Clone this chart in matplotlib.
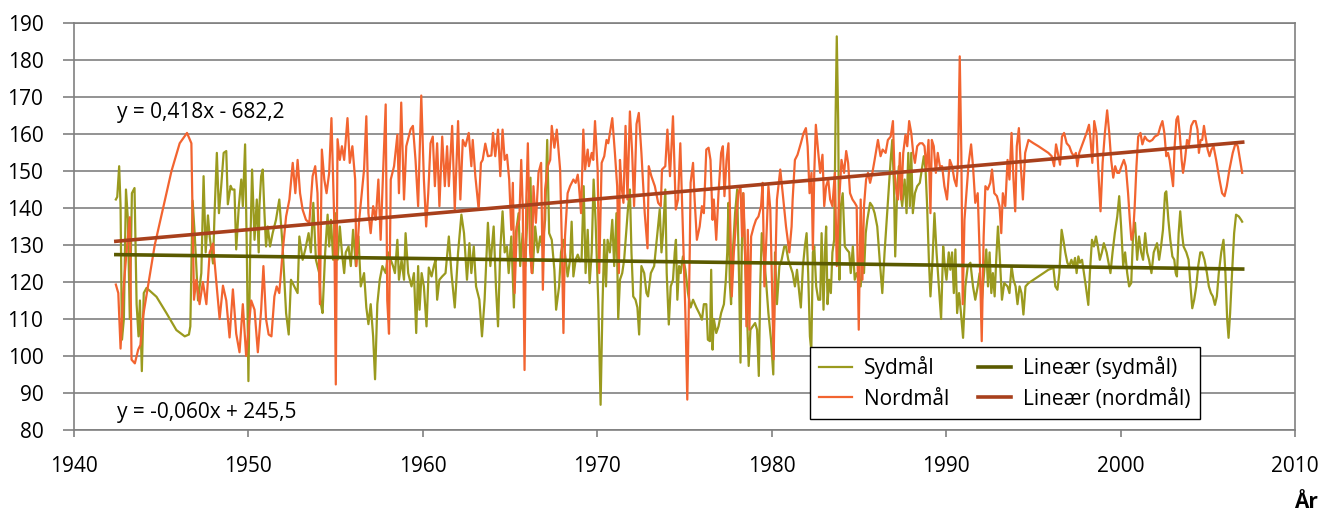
import matplotlib
matplotlib.use('Agg')
from matplotlib import pyplot as plt
from matplotlib.ticker import MultipleLocator

plt.rcParams['font.family'] = ['Open Sans', 'DejaVu Sans']

# Sydmål (south gauge) - year, value
syd_year = [
    1942.40, 1942.48, 1942.59, 1942.67, 1942.75, 1942.86, 1942.98, 1943.09, 1943.20, 1943.32,
    1943.47, 1943.59, 1943.70, 1943.78, 1943.89, 1944.00, 1944.16, 1944.73, 1945.30, 1945.87,
    1946.35, 1946.59, 1946.67, 1946.80, 1946.92, 1947.11, 1947.30, 1947.43, 1947.55, 1947.68,
    1947.78, 1947.97, 1948.06, 1948.19, 1948.31, 1948.44, 1948.58, 1948.73, 1948.82, 1948.98,
    1949.07, 1949.20, 1949.30, 1949.45, 1949.59, 1949.68, 1949.81, 1949.91, 1950.00, 1950.10,
    1950.21, 1950.35, 1950.48, 1950.59,
    1950.63, 1950.73, 1950.82, 1950.92, 1951.01, 1951.11, 1951.24, 1951.39, 1951.58, 1951.77,
    1951.96, 1952.16, 1952.31, 1952.44, 1952.63, 1952.82, 1952.92, 1953.11, 1953.26, 1953.45,
    1953.58, 1953.72, 1953.87, 1954.06, 1954.16, 1954.25, 1954.40, 1954.54, 1954.63, 1954.73,
    1954.86, 1954.97, 1955.11, 1955.24, 1955.36, 1955.49, 1955.58, 1955.74, 1955.87, 1956.00,
    1956.16, 1956.31, 1956.44, 1956.63, 1956.76, 1956.88, 1957.01, 1957.15, 1957.26, 1957.39,
    1957.53, 1957.68, 1957.87, 1958.02, 1958.16, 1958.29, 1958.40, 1958.54, 1958.63, 1958.78,
    1958.92, 1959.01, 1959.16,
    1959.35, 1959.49, 1959.62, 1959.73, 1959.81, 1959.93, 1960.06, 1960.21, 1960.34, 1960.50,
    1960.63, 1960.73, 1960.82, 1960.95, 1961.11, 1961.30, 1961.49, 1961.64, 1961.83, 1962.02,
    1962.21, 1962.36, 1962.53, 1962.67, 1962.78, 1962.92, 1963.05, 1963.24, 1963.39, 1963.54,
    1963.73, 1963.87, 1964.06, 1964.19, 1964.31, 1964.44, 1964.57, 1964.69, 1964.82, 1964.92,
    1965.07, 1965.22, 1965.33, 1965.49, 1965.58, 1965.72, 1965.87, 1966.02, 1966.17, 1966.29,
    1966.44, 1966.59, 1966.73, 1966.86, 1967.01, 1967.13, 1967.24, 1967.39, 1967.54, 1967.64,
    1967.81, 1967.92, 1968.06, 1968.19, 1968.30, 1968.44, 1968.53, 1968.63, 1968.76, 1968.88,
    1969.01, 1969.10, 1969.22, 1969.33, 1969.45, 1969.56, 1969.68, 1969.79, 1969.90, 1970.06,
    1970.19, 1970.30, 1970.40, 1970.50, 1970.59, 1970.72, 1970.86, 1970.97, 1971.10, 1971.20,
    1971.30, 1971.43, 1971.54, 1971.64, 1971.77, 1971.87, 1971.96, 1972.06, 1972.19, 1972.30,
    1972.40, 1972.53, 1972.69, 1972.82, 1972.91, 1973.07, 1973.26, 1973.41, 1973.58, 1973.68,
    1973.77, 1973.90, 1973.98, 1974.10, 1974.21, 1974.34, 1974.44, 1974.51, 1974.59, 1974.69,
    1974.78, 1974.91, 1975.05, 1975.20, 1975.35, 1975.49, 1975.68, 1975.87, 1976.00, 1976.11,
    1976.25,
    1976.34, 1976.46, 1976.53, 1976.61, 1976.68, 1976.82, 1976.95, 1977.10, 1977.26, 1977.37,
    1977.45, 1977.52, 1977.60, 1977.67, 1977.77, 1977.90, 1978.02, 1978.13, 1978.21, 1978.28,
    1978.36, 1978.47, 1978.59, 1978.68, 1978.78, 1978.91, 1979.05, 1979.16, 1979.26, 1979.35,
    1979.43, 1979.54, 1979.67, 1979.81, 1979.96, 1980.09, 1980.19, 1980.30, 1980.44, 1980.57,
    1980.72, 1980.82, 1980.95, 1981.07, 1981.20, 1981.33, 1981.45, 1981.58, 1981.67, 1981.79,
    1981.90, 1982.00, 1982.09, 1982.19, 1982.27, 1982.36, 1982.44, 1982.55, 1982.67, 1982.78,
    1982.86, 1982.97, 1983.05, 1983.12, 1983.20, 1983.29, 1983.39, 1983.48, 1983.58, 1983.66,
    1983.73, 1983.81, 1983.88, 1983.96, 1984.07, 1984.19, 1984.30, 1984.44, 1984.53, 1984.65,
    1984.76, 1984.87,
    1984.99, 1985.10, 1985.20, 1985.29, 1985.39, 1985.48, 1985.64, 1985.77, 1985.90, 1986.05,
    1986.19, 1986.34, 1986.47, 1986.59, 1986.72, 1986.82, 1986.91, 1987.01, 1987.08, 1987.20,
    1987.29, 1987.39, 1987.48, 1987.62, 1987.73, 1987.83, 1987.92, 1988.00, 1988.09, 1988.21,
    1988.34, 1988.49, 1988.63, 1988.72, 1988.82, 1988.91, 1989.01, 1989.10, 1989.22, 1989.33,
    1989.45, 1989.58, 1989.71, 1989.83, 1989.92, 1990.02, 1990.15, 1990.24, 1990.34, 1990.44,
    1990.53, 1990.63, 1990.74, 1990.85, 1990.97, 1991.10, 1991.24, 1991.39, 1991.54, 1991.67,
    1991.81, 1991.92, 1992.05, 1992.19, 1992.30, 1992.40, 1992.49, 1992.59, 1992.68, 1992.78,
    1992.87, 1992.97, 1993.06, 1993.20, 1993.33,
    1993.52, 1993.63, 1993.75, 1993.86, 1993.98, 1994.09, 1994.21, 1994.32, 1994.43, 1994.55,
    1994.72, 1995.01, 1995.29, 1995.58, 1995.86, 1996.15, 1996.26, 1996.38, 1996.49, 1996.62,
    1996.72, 1996.83, 1996.95, 1997.06, 1997.18, 1997.29, 1997.39, 1997.48, 1997.58, 1997.67,
    1997.79, 1997.90, 1998.01, 1998.15, 1998.24, 1998.36, 1998.47, 1998.59, 1998.70, 1998.81,
    1998.93, 1999.04, 1999.20, 1999.31, 1999.42, 1999.54, 1999.67, 1999.81, 1999.92, 2000.03,
    2000.15, 2000.26, 2000.38, 2000.49, 2000.61, 2000.72, 2000.83, 2000.95, 2001.06, 2001.18,
    2001.29, 2001.41, 2001.52, 2001.63, 2001.77, 2001.90,
    2002.09, 2002.21, 2002.32, 2002.43, 2002.55, 2002.62, 2002.74, 2002.85, 2002.97, 2003.08,
    2003.16, 2003.23, 2003.33, 2003.42, 2003.52, 2003.61, 2003.77, 2003.90, 2004.01, 2004.11,
    2004.22, 2004.34, 2004.45, 2004.57, 2004.68, 2004.81, 2004.95, 2005.06, 2005.18, 2005.29,
    2005.41, 2005.52, 2005.63, 2005.77, 2005.90, 2006.01, 2006.11, 2006.19, 2006.28, 2006.39,
    2006.51, 2006.62, 2006.78, 2006.91, 2006.97,
]
syd_val = [
    142.3, 143, 151.3, 140.5, 104.4, 110, 145, 137, 110, 144,
    145.4, 114, 105.3, 115, 95.9, 117, 118.4, 116, 111.6, 107,
    105.3, 105.8, 108, 142, 133, 115, 122.4, 148.6, 128, 138,
    132.3, 125, 138.6, 154.9, 138.6, 145.9, 154.9, 155.4, 141, 146,
    145, 145, 128.8, 140.5, 147.7, 140.5, 157.2, 128, 93.2, 128,
    150.4, 131.4, 142.3, 128,
    140.5, 148.6, 150.4, 138.6, 129.6, 135, 129.6, 133.2, 136.8, 142.3,
    129.6, 111.6, 105.8, 120.6, 118.8, 117, 132.3, 126, 128.8, 133.2,
    128, 141.4, 126, 122.4, 114, 111.6, 128, 138.2, 129.6, 136.8,
    126, 138.6, 126, 135, 128, 122.4, 128, 129.6, 124.3, 134.1,
    124.3, 132.3, 118.8, 122.4, 113.1, 108.6, 114, 105.3, 93.7, 114,
    120.6, 124.3, 122.4, 128, 126, 124.3, 122.4, 131.4, 120.6, 126,
    120.6, 133.2, 122.4,
    118.8, 122.4, 106.2, 124.3, 112.5, 122.4, 118.8, 108, 123.9, 121.5,
    124.3, 126, 115.2, 120.6, 121.5, 122.4, 132.3, 122.4, 113.1, 128,
    138.2, 133.2, 120.6, 130.5, 122.4, 129.6, 118.8, 115.2, 105.3, 115.2,
    136, 124.3, 135, 118.8, 108, 128.8, 139.1, 128, 129.6, 122.4,
    132.3, 113.1, 133.2, 138.6, 124.3, 133.2, 124.3, 140.5, 148.2, 122.4,
    135, 128, 132.3, 129.6, 136.8, 158.4, 133.2, 131.4, 123.3, 112.5,
    118.8, 128, 131.4, 126, 121.5, 126, 136.3, 121.5, 126, 127.4,
    125.6, 126, 145.9, 122.4, 134.1, 119.7, 128, 147.7, 136.8, 114,
    86.8, 114, 131.4, 118.8, 131.4, 128, 136.8, 124.3, 138.6, 110,
    120.6, 122.4, 126, 132.3, 140.5, 145, 128, 116.1, 115.2, 113.1,
    105.8, 124.3, 122.4, 117, 116.1, 122.4, 124.3, 131.4, 139.6, 128,
    133.2, 145, 122.4, 108.5, 118.8, 120.6, 128, 131.4, 115.2, 124.3,
    122.4, 126.9, 123.3, 117, 113.1, 115.2, 113.1, 111.3, 109.8, 114,
    114,
    104.4, 104, 123.3, 101.7, 110, 106.2, 108, 111.6, 114, 120.6,
    128, 141.4, 119.7, 114, 128, 138.6, 145, 120.6, 98.2, 128,
    144, 128, 110, 97.3, 107.1, 108, 108.9, 107.1, 94.6, 120.6,
    133.2, 128, 120.6, 111.6, 104.4, 95, 128, 114, 124.3, 126,
    129.6, 129.6, 126, 124.3, 122.4, 118.8, 123.3, 117, 113.1, 124.3,
    129.6, 133.2, 122.4, 105.3, 101.3, 128, 129.6, 118.8, 115.2, 115.2,
    133.2, 112.5, 128, 135, 114, 120.6, 117, 128, 131.4, 163.9,
    186.4, 163.9, 120.6, 140.5, 144, 129.6, 128.8, 128, 122.4, 129.6,
    120.6, 122.4,
    120.6, 118.8, 126, 122.4, 133.2, 136.8, 141.4, 140.5, 138.6, 135,
    126, 117, 128, 136.8, 145.9, 153, 158.4, 145.9, 126.9, 145.9,
    151.3, 144, 140.5, 147.7, 138.6, 154.9, 140.5, 154.9, 138.6, 144,
    145.9, 146.8, 151.3, 154, 150.4, 140.5, 126, 116.1, 126, 138.6,
    128, 118.8, 110, 129.6, 124.3, 120.6, 128, 123.3, 128, 117,
    128.8, 111.6, 117, 111.6, 104.9, 118.8, 124.3, 125.2, 118.8, 115.2,
    118.8, 122.4, 115.2, 123.3, 128.8, 118.8, 128, 117, 122.4, 116.1,
    126, 135, 128, 115.2, 119.7,
    118.8, 117, 124.3, 120.6, 118.8, 114, 118.8, 117, 111.2, 118.8,
    119.7, 120.6, 121.5, 122.4, 123.3, 123.8, 118.8, 117.9, 122.4, 134.1,
    131.4, 128, 125.2, 124.3, 126, 124.3, 126.5, 122.4, 126.9, 125.2,
    126, 122.4, 118.8, 113.8, 122.4, 131.4, 129.6, 132.3, 129.6, 126,
    128, 130.5, 128, 125.2, 122.4, 128, 133.2, 137.7, 143.2, 135,
    124.3, 128, 122.4, 118.8, 119.7, 133.2, 136, 126, 132.3, 128,
    126, 133.2, 128, 126, 122.4, 128,
    130.5, 126, 129.6, 134.1, 144, 144.5, 136.8, 131.4, 126.9, 126,
    122.4, 121.5, 133.2, 139.1, 133.2, 129.6, 128, 126, 118.8, 112.9,
    115.2, 118.8, 124.3, 128, 128, 126, 122.4, 118.8, 117, 116.1,
    113.8, 116.1, 122.4, 128, 131.4, 122.4, 110, 104.9, 111.6, 122.4,
    133.2, 138.2, 137.7, 136.8, 136.3,
]

# Nordmål (north gauge) - year, value
nord_year = [
    1942.40, 1942.54, 1942.67, 1942.82, 1943.01, 1943.20, 1943.30, 1943.49, 1943.68, 1943.81,
    1943.97, 1944.63, 1945.11, 1945.59, 1946.06, 1946.48, 1946.73, 1946.88, 1947.01, 1947.20,
    1947.39, 1947.59, 1947.78, 1947.97, 1948.16, 1948.35, 1948.54, 1948.73, 1948.92, 1949.11,
    1949.30, 1949.49, 1949.68, 1949.87, 1950.16, 1950.35, 1950.54,
    1950.73, 1950.86, 1951.01, 1951.16, 1951.32, 1951.49, 1951.62, 1951.77, 1951.96, 1952.16,
    1952.35, 1952.54, 1952.69, 1952.82, 1952.96, 1953.11, 1953.30, 1953.49, 1953.68, 1953.83,
    1953.96, 1954.10, 1954.21, 1954.35, 1954.48, 1954.63, 1954.76, 1954.92, 1955.01, 1955.11,
    1955.24, 1955.36, 1955.49, 1955.68, 1955.81, 1955.96, 1956.12, 1956.19, 1956.35, 1956.50,
    1956.63, 1956.76, 1956.88, 1957.01, 1957.15, 1957.30, 1957.45, 1957.58, 1957.72, 1957.87,
    1957.96, 1958.06, 1958.16, 1958.35, 1958.54, 1958.63, 1958.76, 1958.92, 1959.05,
    1959.30, 1959.43, 1959.58, 1959.73, 1959.91, 1960.06, 1960.19, 1960.31, 1960.44, 1960.57,
    1960.69, 1960.82, 1960.95, 1961.11, 1961.26, 1961.39, 1961.49, 1961.68, 1961.83, 1962.02,
    1962.15, 1962.29, 1962.44, 1962.63, 1962.78, 1962.86, 1963.01, 1963.20, 1963.33, 1963.43,
    1963.58, 1963.73, 1963.93, 1964.02, 1964.15, 1964.31, 1964.44, 1964.57, 1964.69, 1964.82,
    1964.95, 1965.07, 1965.16, 1965.26, 1965.39, 1965.53, 1965.64, 1965.73, 1965.83, 1965.93,
    1966.02, 1966.15, 1966.25, 1966.34, 1966.48, 1966.63, 1966.78, 1966.88, 1967.01, 1967.16,
    1967.30, 1967.39, 1967.54, 1967.68,
    1967.87, 1967.96, 1968.06, 1968.15, 1968.30, 1968.44, 1968.63, 1968.76, 1968.88, 1968.95,
    1969.07, 1969.20, 1969.30, 1969.45, 1969.52, 1969.68, 1969.77, 1969.87, 1970.02, 1970.11,
    1970.25, 1970.40, 1970.53, 1970.63, 1970.86, 1971.01, 1971.14, 1971.24, 1971.30, 1971.39,
    1971.50, 1971.62, 1971.73, 1971.87, 1972.00, 1972.11, 1972.25, 1972.38, 1972.53, 1972.72,
    1972.88, 1972.95, 1973.10, 1973.30, 1973.49, 1973.64, 1973.71, 1973.90, 1974.02, 1974.17,
    1974.34, 1974.50, 1974.63, 1974.76, 1974.91, 1975.05, 1975.16, 1975.30, 1975.35, 1975.49,
    1975.58, 1975.71, 1975.87, 1976.00, 1976.11, 1976.25,
    1976.38, 1976.49, 1976.61, 1976.68, 1976.82, 1976.95, 1977.10, 1977.20, 1977.29, 1977.41,
    1977.52, 1977.64, 1977.71, 1977.83, 1977.96, 1978.09, 1978.21, 1978.30, 1978.38, 1978.47,
    1978.55, 1978.63, 1978.72, 1978.82, 1978.97, 1979.10, 1979.24, 1979.39, 1979.48, 1979.58,
    1979.69, 1979.81, 1979.92, 1980.02, 1980.11, 1980.19, 1980.30, 1980.49, 1980.63, 1980.82,
    1981.01, 1981.14, 1981.20, 1981.33, 1981.48, 1981.67, 1981.83, 1981.96, 1982.06, 1982.17,
    1982.28, 1982.36, 1982.44, 1982.53, 1982.67, 1982.78, 1982.91, 1983.01, 1983.12, 1983.24,
    1983.35, 1983.48, 1983.62, 1983.73, 1983.85, 1984.00, 1984.15, 1984.27, 1984.38, 1984.49,
    1984.63, 1984.76, 1984.87,
    1984.99, 1985.10, 1985.20, 1985.29, 1985.41, 1985.52, 1985.64, 1985.77, 1985.90, 1986.09,
    1986.24, 1986.36, 1986.53, 1986.66, 1986.82, 1986.95, 1987.04, 1987.16, 1987.24, 1987.35,
    1987.43, 1987.54, 1987.67, 1987.77, 1987.88, 1988.00, 1988.11, 1988.21, 1988.34, 1988.49,
    1988.64, 1988.76, 1988.87, 1988.99, 1989.10, 1989.18, 1989.29, 1989.41, 1989.52, 1989.64,
    1989.77, 1989.90, 1990.05, 1990.21, 1990.34, 1990.47, 1990.59, 1990.68, 1990.78, 1990.87,
    1990.95, 1991.05, 1991.16, 1991.29, 1991.43, 1991.54, 1991.67, 1991.81, 1991.92, 1992.04,
    1992.15, 1992.25, 1992.38, 1992.53, 1992.63, 1992.76, 1992.91, 1993.06, 1993.16, 1993.25,
    1993.39,
    1993.52, 1993.63, 1993.75, 1993.86, 1993.96, 1994.05, 1994.17, 1994.28, 1994.40, 1994.53,
    1994.72, 1995.01, 1995.29, 1995.58, 1995.86, 1996.05, 1996.19, 1996.30, 1996.40, 1996.53,
    1996.64, 1996.76, 1996.91, 1997.06, 1997.20, 1997.33, 1997.44, 1997.52, 1997.63, 1997.77,
    1997.90, 1998.05, 1998.19, 1998.28, 1998.38, 1998.49, 1998.62, 1998.74, 1998.85, 1998.97,
    1999.10, 1999.23, 1999.35, 1999.46, 1999.58, 1999.69, 1999.81, 1999.92, 2000.05, 2000.19,
    2000.30, 2000.43, 2000.53, 2000.62, 2000.72, 2000.81, 2000.91, 2001.01, 2001.14, 2001.25,
    2001.39, 2001.52, 2001.67, 2001.82, 2001.96,
    2002.15, 2002.28, 2002.40, 2002.51, 2002.62, 2002.72, 2002.81, 2002.93, 2003.01, 2003.10,
    2003.20, 2003.29, 2003.39, 2003.50, 2003.58, 2003.69, 2003.81, 2003.92, 2004.05, 2004.19,
    2004.30, 2004.41, 2004.49, 2004.59, 2004.68, 2004.78, 2004.87, 2004.99, 2005.10, 2005.21,
    2005.33, 2005.48, 2005.67, 2005.82, 2005.96, 2006.09, 2006.24, 2006.43, 2006.59, 2006.72,
    2006.85, 2006.97,
]
nord_val = [
    119.3, 117, 102, 117, 128, 137.5, 99, 98, 101.7, 103,
    111, 130, 140, 150, 157.5, 160.3, 157.5, 115.2, 120.6, 114,
    120, 114, 128, 130.4, 120, 110, 119, 115, 105, 118,
    106, 101, 114, 100, 115, 112.5, 101,
    112.5, 124.3, 110, 105.8, 105.3, 116.1, 118.8, 117, 128, 137.7,
    142.3, 152.2, 144, 153, 144, 139.5, 136.8, 136, 148.6, 151.3,
    144, 114, 155.8, 147.7, 144, 149.5, 164.3, 136.8, 92.3, 158.6,
    153, 156.7, 153, 164.3, 152.2, 156.7, 147.7, 124.3, 136.8, 144,
    150.4, 164.8, 138.6, 133.2, 140.5, 136.8, 147.7, 131.4, 149.5, 168,
    115, 106, 147.7, 151.3, 159.8, 144, 168.5, 142.3, 156.7,
    161.3, 162.2, 153, 140.5, 170.4, 147.7, 135, 144, 157.5, 159.3,
    145.9, 157.5, 140.5, 159.3, 145.9, 156.7, 145.9, 162.2, 139.6, 163.5,
    142.3, 158.4, 156.7, 160.3, 151.3, 158.4, 148.6, 139.6, 152.2, 153,
    157.4, 154, 154.2, 160.3, 154, 161.2, 148.6, 161.2, 153, 154.4,
    147.7, 134.1, 146.8, 117, 135, 136.8, 153, 139.6, 96.2, 142.3,
    157.5, 128, 122.4, 145.9, 136, 149.5, 152.2, 117.9, 145, 151.3,
    153, 162.2, 156.3, 161.2,
    150.4, 132.3, 106.2, 132.3, 144, 145.9, 147.7, 146.8, 149, 145.9,
    138.6, 161.2, 150.4, 155.8, 151.3, 154.9, 153, 163.5, 150.4, 122.4,
    152.2, 154, 158.4, 157.5, 164.3, 154.9, 145.9, 122.4, 153, 145.9,
    141.4, 162.2, 142.3, 166.1, 154.9, 140.5, 162.7, 165.7, 154.9, 138.6,
    129.1, 151.3, 148.6, 145.9, 141.4, 140.5, 150.4, 151.3, 161.2, 148.6,
    164.8, 139.6, 142.3, 157.5, 134.1, 111.6, 88.2, 128, 146.8, 152.2,
    142.3, 131.4, 135, 140.5, 138.6, 155.8,
    156.3, 153, 136.8, 142.3, 131.4, 144, 154.9, 156.7, 143.2, 153,
    157.5, 132.3, 116.1, 128, 136.8, 144, 145.9, 132.3, 144, 128,
    108, 134.1, 107.1, 132.3, 135, 136.8, 137.7, 140.5, 146.8, 118.8,
    131.4, 145.9, 139.6, 118.8, 99.1, 120.6, 142.3, 150.4, 144, 135,
    128, 135, 142.3, 153, 154.4, 157.5, 160.3, 161.6, 156.7, 144,
    149.5, 128.8, 149.5, 162.5, 154.9, 149.5, 154.4, 140.5, 145.9, 147.7,
    142.3, 140.5, 149.5, 124.3, 140.5, 153, 149.5, 155.4, 152.2, 144,
    142.3, 141.4, 140.5,
    107.1, 142.3, 120.6, 140.5, 147.7, 149.5, 146.8, 149.5, 153, 158.4,
    154, 155.8, 154.9, 158.4, 159.3, 163.5, 149.5, 144, 142.3, 154.9,
    142.3, 154.9, 159.8, 156.7, 163.5, 160.3, 154.9, 152.2, 156.7, 157.5,
    157.5, 156.7, 150.4, 158.4, 138.6, 158.4, 156.7, 149.5, 154.9, 151.3,
    151.3, 145.9, 142.3, 153, 151.3, 147.7, 145.9, 152.2, 181, 154.9,
    114, 136.8, 144, 152.2, 157.2, 151.3, 141.4, 144, 128, 104,
    132.3, 145.9, 145, 146.8, 150.4, 144, 143.2, 140.5, 133.2, 144,
    140.5,
    153, 147.7, 160.3, 147.7, 139.1, 156.7, 161.6, 151.3, 142.3, 154.9,
    158.4, 157.5, 156.7, 155.8, 154.9, 154, 151.3, 157.2, 154.9, 151.7,
    159.3, 160.3, 157.5, 156.7, 154.9, 154, 154.9, 151.3, 154.9, 156.7,
    158.4, 160.3, 162.5, 158.4, 152.2, 163.5, 160.3, 148.6, 139.1, 152.2,
    160.3, 166.4, 160.3, 153, 148.2, 151.3, 149.5, 149.5, 151.3, 153,
    151.3, 144, 136.8, 131.4, 133.2, 140.5, 151.3, 159.3, 160.3, 157.2,
    159.3, 158.4, 158, 158.4, 159.3,
    159.8, 162, 163.5, 160.3, 154, 154.9, 153, 148.6, 145.9, 156.7,
    163.9, 164.8, 160.3, 153, 149.5, 153, 158.4, 157.2, 162.2, 163.5,
    163.5, 161.2, 154.9, 158.4, 158.4, 162.2, 159.3, 155.8, 154, 155.8,
    156.7, 153, 147.7, 144, 143.2, 145.9, 150.4, 154.9, 157.5, 156.7,
    153, 149.5,
]

# linear trend lines (start / end)
trend_year = [1942.4, 2007.0]
syd_trend = [127.4, 123.5]
nord_trend = [131.0, 157.8]

eq_nord = 'y = 0,418x - 682,2'
eq_syd = 'y = -0,060x + 245,5'

C_SYD = '#9a9a1e'
C_NORD = '#f26430'
C_SYD_T = '#5a5a00'
C_NORD_T = '#a8401c'
GRID = '#808080'
FS = 15

fig = plt.figure(figsize=(13.33, 5.18), dpi=100)
ax = fig.add_axes([0.0555, 0.170, 0.916, 0.7855])

ax.plot(syd_year, syd_val, color=C_SYD, lw=1.6, label='Sydmål', zorder=3)
ax.plot(nord_year, nord_val, color=C_NORD, lw=1.6, label='Nordmål', zorder=3)
ax.plot(trend_year, syd_trend, color=C_SYD_T, lw=2.6, label='Lineær (sydmål)', zorder=4)
ax.plot(trend_year, nord_trend, color=C_NORD_T, lw=2.6, label='Lineær (nordmål)', zorder=4)

ax.set_xlim(1940, 2010)
ax.set_ylim(80, 190)
ax.xaxis.set_major_locator(MultipleLocator(10))
ax.yaxis.set_major_locator(MultipleLocator(10))
ax.grid(axis='y', color=GRID, lw=1.2)
ax.set_axisbelow(True)
for side in ['left', 'bottom', 'right', 'top']:
    ax.spines[side].set_color(GRID)
    ax.spines[side].set_linewidth(1.2)
ax.tick_params(axis='y', length=8, width=1.2, color=GRID, pad=14, labelsize=FS)
ax.tick_params(axis='x', length=5, width=1.2, color=GRID, pad=14, labelsize=FS)

ax.text(1942.45, 165.7, eq_nord, fontsize=FS, va='center', ha='left')
ax.text(1942.45, 84.6, eq_syd, fontsize=FS, va='center', ha='left')

leg = ax.legend(ncol=2, loc='lower right', bbox_to_anchor=(0.922, 0.027), fontsize=FS,
                frameon=True, fancybox=False, edgecolor='black', framealpha=1,
                handlelength=1.6, columnspacing=1.4, labelspacing=0.45,
                borderpad=0.45, handletextpad=0.55, borderaxespad=0)
leg.get_frame().set_linewidth(1.0)

fig.text(0.989, 0.01, 'År', fontsize=FS, fontweight='bold', ha='right', va='bottom')

fig.savefig('out.png', dpi=100)
